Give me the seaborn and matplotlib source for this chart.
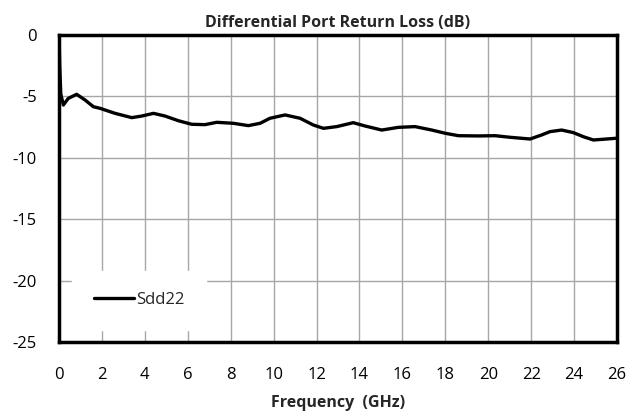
import numpy as np
import pandas as pd
import matplotlib.pyplot as plt
import seaborn as sns

# Sdd22 trace
freq_ghz = [0.0, 0.03, 0.08, 0.2, 0.43, 0.82, 1.21, 1.6, 1.91, 2.61, 3.39, 3.85,
            4.4, 4.94, 5.56, 6.18, 6.8, 7.35, 8.12, 8.82, 9.37, 9.83, 10.53,
            11.23, 11.85, 12.32, 12.94, 13.71, 14.26, 15.04, 15.81, 16.59, 17.37,
            17.99, 18.61, 19.54, 20.32, 21.02, 21.95, 22.26, 22.49, 22.88, 23.42,
            23.97, 24.43, 24.9, 25.52, 25.96]
sdd22_db = [0.0, -2.5, -4.8, -5.7, -5.16, -4.83, -5.29, -5.84, -5.97, -6.38, -6.73, -6.6,
            -6.38, -6.6, -6.98, -7.27, -7.3, -7.11, -7.19, -7.38, -7.19, -6.78, -6.51,
            -6.78, -7.33, -7.6, -7.46, -7.14, -7.41, -7.74, -7.52, -7.46, -7.74,
            -8.0, -8.2, -8.22, -8.2, -8.33, -8.47, -8.28, -8.14, -7.87, -7.74,
            -7.95, -8.28, -8.55, -8.47, -8.41]

df = pd.DataFrame({"Frequency": freq_ghz, "dB": sdd22_db, "trace": "Sdd22"})

sns.set_theme(style="white")
plt.rcParams["font.family"] = ["Open Sans", "DejaVu Sans"]
plt.rcParams["axes.unicode_minus"] = False

fig = plt.figure(figsize=(6.42, 4.17), dpi=100)
ax = fig.add_axes([0.092, 0.18, 0.869, 0.736])

sns.lineplot(data=df, x="Frequency", y="dB", hue="trace", palette=["black"],
             sort=False, linewidth=2.4, ax=ax)

ax.set_xlim(0, 26)
ax.set_ylim(-25, 0)
ax.set_xticks(np.arange(0, 27, 2))
ax.set_yticks(np.arange(-25, 1, 5))
ax.grid(True, color="#a6a6a6", linewidth=1)
ax.set_axisbelow(True)
for s in ax.spines.values():
    s.set_color("black")
    s.set_linewidth(2.5)
ax.tick_params(axis="x", length=0, labelsize=12, colors="black", pad=18)
ax.tick_params(axis="y", length=0, labelsize=12, colors="black", pad=16)

ax.set_title("Differential Port Return Loss (dB)", fontsize=11.5, fontweight="bold", pad=6)
ax.set_xlabel("Frequency  (GHz)", fontsize=11.5, fontweight="bold", labelpad=9)
ax.set_ylabel("")

leg = ax.legend(loc="lower left", bbox_to_anchor=(0.023, 0.039), borderaxespad=0,
                frameon=True, facecolor="white", edgecolor="white", framealpha=1,
                fontsize=12, handlelength=2.4, handletextpad=0.15, borderpad=1.3,
                fancybox=False)

fig.savefig("out.png", dpi=100)
